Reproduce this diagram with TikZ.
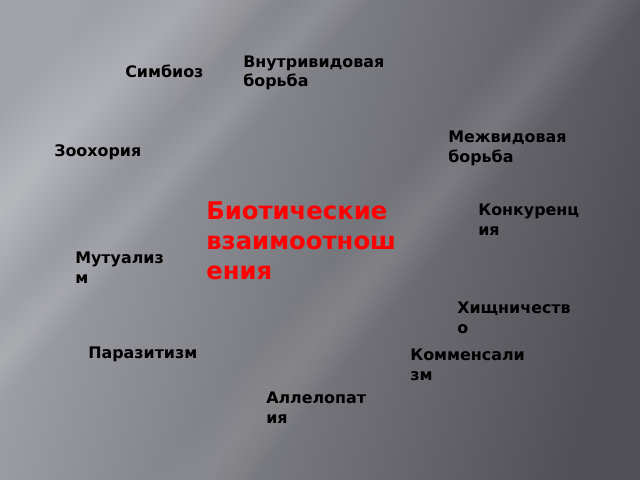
\documentclass[tikz,border=0pt]{standalone}
\usepackage{fontspec}
\setmainfont{DejaVu Sans}
\definecolor{fonsvet}{RGB}{162,163,170}
\definecolor{fontem}{RGB}{80,80,86}
\tikzset{
  vid/.style={anchor=base west,inner sep=0pt,align=left,text=black,
    font=\fontsize{11.3}{14}\selectfont\bfseries},
  glav/.style={anchor=base west,inner sep=0pt,align=left,text=red,
    font=\fontsize{17.3}{21}\selectfont\bfseries}}
\begin{document}
\begin{tikzpicture}[x=0.025cm,y=-0.025cm]% fon slajda
\useasboundingbox (0,0) rectangle (640,480);
\shade[shading=axis,left color=fonsvet,right color=fontem,shading angle=75] (0,0) rectangle (640,480);
% svetlye polosy
\foreach \w in {8,16,...,80}
  \fill[white,opacity=0.028] (190-\w,0) -- (190+\w,0) -- (-250+\w,480) -- (-250-\w,480) -- cycle;
\foreach \w in {6,12,...,36}
  \fill[white,opacity=0.025] (330-\w,0) -- (330+\w,0) -- (-110+\w,480) -- (-110-\w,480) -- cycle;
\foreach \w in {6,12,...,48}
  \fill[white,opacity=0.014] (600-\w,0) -- (600+\w,0) -- (200+\w,480) -- (200-\w,480) -- cycle;
% podpisi
\node[glav] (biot) at (206,279) {Биотические\\взаимоотнош\\ения};
\node[vid] (simbioz) at (125,77) {Симбиоз};
\node[vid] (vnutri) at (243,87) {Внутривидовая\\борьба};
\node[vid] (mezhvid) at (448,162) {Межвидовая\\борьба};
\node[vid] (zoohor) at (54,156) {Зоохория};
\node[vid] (konkur) at (478,235) {Конкуренц\\ия};
\node[vid] (mutual) at (75,283) {Мутуализ\\м};
\node[vid] (hishch) at (457,333) {Хищничеств\\о};
\node[vid] (parazit) at (88,358) {Паразитизм};
\node[vid] (kommens) at (410,380) {Комменсали\\зм};
\node[vid] (allelo) at (266,423) {Аллелопат\\ия};
\end{tikzpicture}
\end{document}
